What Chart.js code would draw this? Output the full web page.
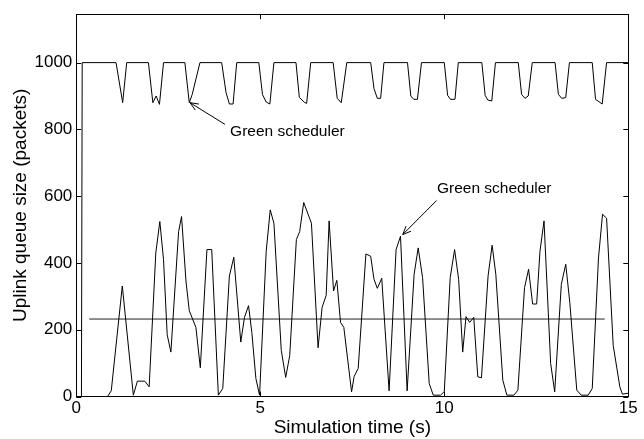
<!DOCTYPE html>
<html>
<head>
<meta charset="utf-8">
<script src="https://cdn.jsdelivr.net/npm/chart.js@4.4.1/dist/chart.umd.min.js"></script>
<style>
  html, body { margin: 0; padding: 0; background: #fff; }
  #wrap { width: 644px; height: 439px; }
</style>
</head>
<body>
<div id="wrap"><canvas id="queueChart" width="644" height="439"></canvas></div>
<script>
// Upper curve (queue saturating at 1000 with periodic dips)
const highTime = [0.14, 0.16, 1.08, 1.26, 1.37, 1.96, 2.08, 2.17, 2.26, 2.37, 2.95, 3.07, 3.15, 3.36,
    3.95, 4.07, 4.16, 4.26, 4.36, 4.96, 5.06, 5.16, 5.26, 5.37, 5.97, 6.06, 6.21, 6.26, 6.37,
    6.98, 7.09, 7.20, 7.35, 8.00, 8.09, 8.18, 8.27, 8.36, 9.00, 9.09, 9.17, 9.27, 9.38,
    10.00, 10.09, 10.17, 10.29, 10.38, 11.02, 11.11, 11.18, 11.29, 11.39,
    12.01, 12.10, 12.19, 12.28, 12.39, 13.01, 13.10, 13.19, 13.30, 13.40,
    14.02, 14.11, 14.29, 14.41, 15.0];
const highQueue = [0, 1000, 1000, 880, 1000, 1000, 880, 900, 875, 1000, 1000, 880, 905, 1000,
    1000, 910, 876, 876, 1000, 1000, 904, 882, 876, 1000, 1000, 896, 880, 878, 1000,
    1000, 893, 880, 1000, 1000, 922, 893, 893, 1000, 1000, 900, 890, 890, 1000,
    1000, 902, 890, 890, 1000, 1000, 902, 888, 885, 1000,
    1000, 905, 893, 900, 1000, 1000, 905, 893, 895, 1000,
    1000, 890, 876, 1000, 1000];

// Lower curve (green scheduler queue)
const lowTime = [0, 0.85, 0.95, 1.25, 1.55, 1.66, 1.86, 1.98, 2.16, 2.27, 2.37, 2.47, 2.57, 2.78, 2.86,
    2.98, 3.07, 3.25, 3.37, 3.55, 3.68, 3.86, 3.98, 4.16, 4.28, 4.47, 4.57, 4.68, 4.77, 4.88, 4.98,
    5.16, 5.27, 5.37, 5.57, 5.69, 5.80, 5.98, 6.07, 6.18, 6.39, 6.57, 6.68, 6.79, 6.87, 6.99, 7.08,
    7.18, 7.27, 7.48, 7.55, 7.66, 7.87, 8.00, 8.09, 8.18, 8.30, 8.50, 8.69, 8.81, 8.99, 9.18, 9.29,
    9.41, 9.59, 9.70, 9.90, 10.0, 10.16, 10.28, 10.39, 10.50, 10.59, 10.69, 10.80, 10.91, 11.01,
    11.19, 11.30, 11.40, 11.59, 11.70, 11.89, 12.00, 12.18, 12.29, 12.40, 12.51, 12.60, 12.71,
    12.89, 13.00, 13.18, 13.30, 13.41, 13.60, 13.72, 13.91, 14.02, 14.19, 14.30, 14.41, 14.59,
    14.77, 14.84, 15.0];
const lowQueue = [0, 0, 17, 331, 4, 46, 46, 29, 430, 524, 410, 185, 133, 494, 539,
    346, 257, 207, 86, 440, 440, 4, 24, 361, 417, 163, 237, 272, 192, 54, 4,
    435, 559, 519, 138, 57, 123, 470, 494, 581, 519, 146, 267, 303, 526, 316, 348,
    222, 207, 14, 60, 84, 427, 420, 351, 324, 354, 17, 440, 480, 17, 366, 445,
    356, 39, 4, 4, 15, 356, 440, 351, 133, 239, 222, 237, 59, 56,
    361, 453, 366, 49, 4, 4, 19, 326, 381, 277, 277, 435, 526,
    99, 14, 336, 396, 282, 19, 4, 4, 24, 415, 546, 534, 153,
    29, 7, 10];

// Mean line
const meanTime = [0.35, 14.36];
const meanQueue = [232, 232];

const xTicks = [0, 5, 10, 15];
const yTicks = [0, 200, 400, 600, 800, 1000];

const toPoints = (xs, ys) => xs.map((x, i) => ({ x: x, y: ys[i] }));

// text labels with arrows, in data coordinates
const notes = [
    { text: 'Green scheduler', tx: 4.18, ty: 793, from: [4.04, 815], to: [3.09, 880] },
    { text: 'Green scheduler', tx: 9.80, ty: 623, from: [9.79, 587], to: [8.87, 485] }
];

const framePlugin = {
    id: 'frame',
    afterDatasetsDraw(chart) {
        const { ctx, chartArea: a, scales } = chart;
        ctx.save();
        ctx.strokeStyle = '#000';
        ctx.lineWidth = 1;
        ctx.strokeRect(Math.round(a.left) + 0.5, Math.round(a.top) + 0.5,
            Math.round(a.right - a.left), Math.round(a.bottom - a.top));
        ctx.beginPath();
        const len = 5;
        xTicks.forEach(v => {
            const px = Math.round(scales.x.getPixelForValue(v)) + 0.5;
            ctx.moveTo(px, a.bottom); ctx.lineTo(px, a.bottom - len);
            ctx.moveTo(px, a.top); ctx.lineTo(px, a.top + len);
        });
        yTicks.forEach(v => {
            const py = Math.round(scales.y.getPixelForValue(v)) + 0.5;
            ctx.moveTo(a.left, py); ctx.lineTo(a.left + len, py);
            ctx.moveTo(a.right, py); ctx.lineTo(a.right - len, py);
        });
        ctx.stroke();

        // annotations
        ctx.font = '15.5px "Liberation Sans", Arial, sans-serif';
        ctx.fillStyle = '#000';
        ctx.textBaseline = 'middle';
        notes.forEach(n => {
            ctx.fillText(n.text, scales.x.getPixelForValue(n.tx), scales.y.getPixelForValue(n.ty));
            const x1 = scales.x.getPixelForValue(n.from[0]), y1 = scales.y.getPixelForValue(n.from[1]);
            const x2 = scales.x.getPixelForValue(n.to[0]), y2 = scales.y.getPixelForValue(n.to[1]);
            const ang = Math.atan2(y2 - y1, x2 - x1);
            ctx.beginPath();
            ctx.moveTo(x1, y1); ctx.lineTo(x2, y2);
            ctx.stroke();
            ctx.beginPath();
            ctx.moveTo(x2 - 9 * Math.cos(ang - 0.4), y2 - 9 * Math.sin(ang - 0.4));
            ctx.lineTo(x2, y2);
            ctx.lineTo(x2 - 9 * Math.cos(ang + 0.4), y2 - 9 * Math.sin(ang + 0.4));
            ctx.stroke();
        });
        ctx.restore();
    }
};

Chart.defaults.color = '#000';
Chart.defaults.font.family = '"Liberation Sans", Arial, sans-serif';

const lineStyle = { borderColor: '#000', borderWidth: 1, pointRadius: 0, tension: 0, fill: false };

new Chart(document.getElementById('queueChart'), {
    type: 'line',
    data: {
        datasets: [
            { label: 'Queue', data: toPoints(highTime, highQueue), ...lineStyle },
            { label: 'Green scheduler', data: toPoints(lowTime, lowQueue), ...lineStyle },
            { label: 'Mean', data: toPoints(meanTime, meanQueue), ...lineStyle, borderColor: '#222' }
        ]
    },
    options: {
        responsive: false,
        animation: false,
        layout: { padding: { left: 0, right: 15.7, top: 11.7, bottom: 0 } },
        plugins: { legend: { display: false }, tooltip: { enabled: false } },
        scales: {
            x: {
                type: 'linear',
                min: 0, max: 15,
                afterBuildTicks: s => { s.ticks = xTicks.map(v => ({ value: v })); },
                afterFit: s => { s.height = 42.5; },
                grid: { display: false, drawTicks: false },
                border: { display: false },
                ticks: { font: { size: 17 }, padding: 2, maxRotation: 0, callback: v => String(v) },
                title: { display: true, text: 'Simulation time (s)', font: { size: 19 }, padding: { top: 0, bottom: 0 } }
            },
            y: {
                type: 'linear',
                min: 0, max: 1145,
                afterBuildTicks: s => { s.ticks = yTicks.map(v => ({ value: v })); },
                afterFit: s => { s.width = 76.3; },
                grid: { display: false, drawTicks: false },
                border: { display: false },
                ticks: { font: { size: 17 }, padding: 4, callback: v => String(v) },
                title: { display: true, text: 'Uplink queue size (packets)', font: { size: 19 }, padding: { top: 9, bottom: 2 } }
            }
        }
    },
    plugins: [framePlugin]
});
</script>
</body>
</html>
